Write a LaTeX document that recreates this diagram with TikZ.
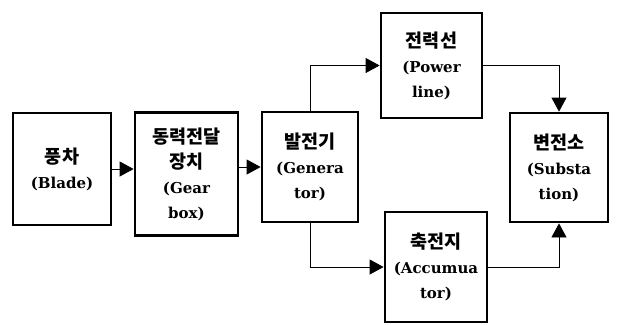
\documentclass[tikz,border=0pt]{standalone}
\usepackage{fontspec}
\setmainfont{DejaVu Serif}
\newfontfamily\kr{Noto Sans CJK KR}
\usetikzlibrary{arrows.meta}
\newcommand{\ko}[1]{{\kr\fontsize{18.5}{25}\selectfont\bfseries #1}}
\tikzset{
  blk/.style={draw, line width=2.8pt, align=center, inner sep=0pt,
    font=\fontsize{15}{25}\selectfont\bfseries},
  flow/.style={line width=0.8pt, -{Triangle[length=14pt,width=15pt]}},
}
\begin{document}
\begin{tikzpicture}[x=1pt,y=-1pt]
  \useasboundingbox (0,0) rectangle (617,324);
  % component blocks
  \node[blk, minimum width=98pt,  minimum height=112pt] (blade) at (62,169)   {\ko{풍차}\\(Blade)};
  \node[blk, minimum width=103pt, minimum height=123pt] (gear)  at (186.5,174) {\ko{동력전달}\\\ko{장치}\\(Gear\\box)};
  \node[blk, minimum width=96pt,  minimum height=110pt] (gen)   at (310,167)  {\ko{발전기}\\(Genera\\tor)};
  \node[blk, minimum width=101pt, minimum height=105pt] (line)  at (431.5,65.5) {\ko{전력선}\\(Power\\line)};
  \node[blk, minimum width=98pt,  minimum height=109pt] (sub)   at (559,167.5) {\ko{변전소}\\(Substa\\tion)};
  \node[blk, minimum width=102pt, minimum height=110pt] (acc)   at (436,267)  {\ko{축전지}\\(Accumua\\tor)};
  % power flow
  \draw[flow] (blade.east) -- (blade.east -| gear.west);
  \draw[flow] (gen.west -| gear.east) -- (gen.west);
  \draw[flow] (gen.north) |- (line.west);
  \draw[flow] (line.east) -| (sub.north);
  \draw[flow] (gen.south) |- (acc.west);
  \draw[flow] (acc.east) -| (sub.south);
\end{tikzpicture}
\end{document}
